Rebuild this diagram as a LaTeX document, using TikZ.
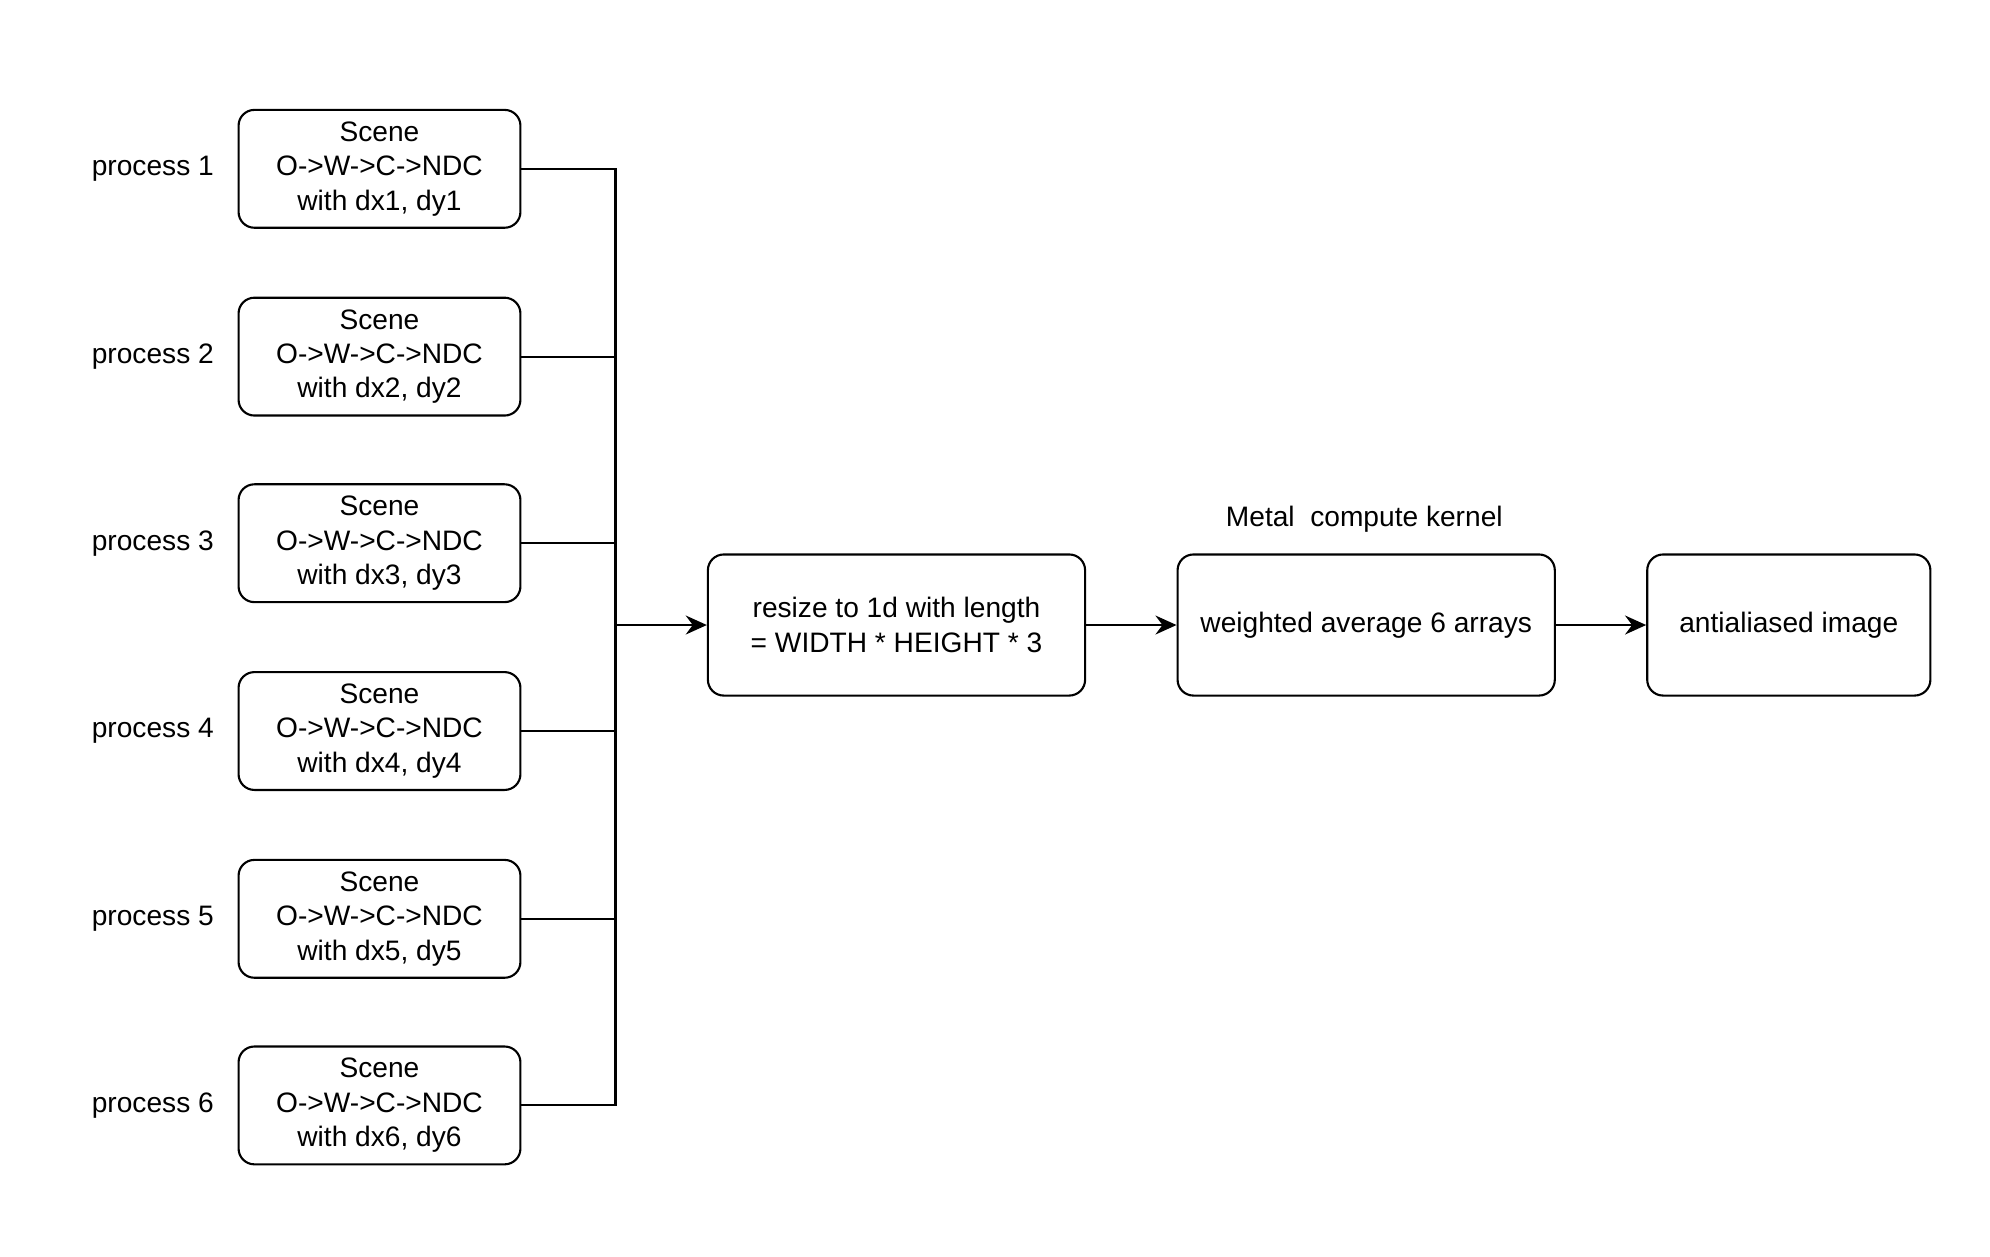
\documentclass[tikz,border=0pt]{standalone}
\usepackage{fontspec}
\setmainfont{Liberation Sans}
\usetikzlibrary{arrows.meta,positioning}

\begin{document}
\begin{tikzpicture}[x=0.01cm, y=-0.01cm,
    box/.style={draw, rounded corners=4.5pt, line width=0.6pt, align=center, font=\fontsize{8}{9.8}\selectfont},
    lbl/.style={font=\fontsize{8}{9.8}\selectfont, inner sep=0pt},
    flow/.style={-{Stealth[length=6pt, width=5.4pt, inset=2pt]}, line width=0.6pt}]
    \useasboundingbox (0,0) rectangle (1990,1256);
    % 六个进程汇总到一条总线
    \coordinate (bus) at (615.5,625);
    \foreach \i/\y in {1/168.8, 2/356.6, 3/543.2, 4/731, 5/918.8, 6/1105.4}
    {
        \node[box, minimum width=2.817cm, minimum height=1.168cm] (s\i) at (379.5,\y) {Scene\\O->W->C->NDC\\with dx\i, dy\i};
        \node[lbl, left=0.23cm of s\i] (p\i) {process \i};
        \draw[line width=0.6pt] (s\i.east) -| (bus);
    }

    \node[box, minimum width=3.77cm, minimum height=1.41cm] (resize) at (896.5,625) {resize to 1d with length\\= WIDTH * HEIGHT * 3};
    \node[box, minimum width=3.77cm, minimum height=1.41cm] (avg) at (1366.2,625) {weighted average 6 arrays};
    \node[box, minimum width=2.83cm, minimum height=1.41cm] (out) at (1788.8,625) {antialiased image};
    \node[lbl] (kernel) at (1364.3,519) {Metal\ \ compute kernel};

    \draw[flow] (bus) -- (resize);
    \draw[flow] (resize) -- (avg);
    \draw[flow] (avg) -- (out);
\end{tikzpicture}
\end{document}
